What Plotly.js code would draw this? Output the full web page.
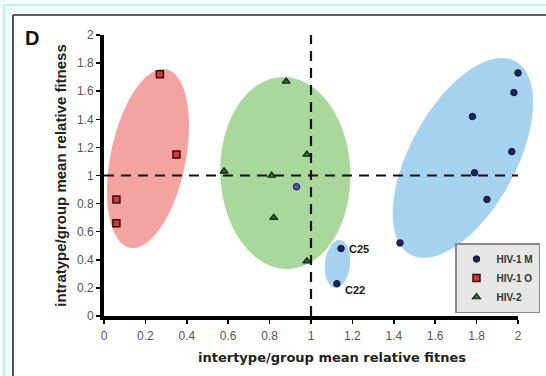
<!DOCTYPE html>
<html>
<head>
<meta charset="utf-8">
<script src="https://cdn.plot.ly/plotly-3.0.1.min.js"></script>
<style>html,body{margin:0;padding:0;background:#fff;}#chart{width:546px;height:376px;}</style>
</head>
<body>
<div id="chart"></div>
<script>
// ---- data ----
const seriesNames = ["HIV-1 M", "HIV-1 O", "HIV-2"];
const m_x = [2.00, 1.98, 1.78, 1.97, 1.79, 1.85, 1.43, 1.145, 1.125, 0.93];
const m_y = [1.73, 1.59, 1.42, 1.17, 1.02, 0.83, 0.52, 0.48, 0.23, 0.92];
const o_x = [0.27, 0.35, 0.06, 0.06];
const o_y = [1.72, 1.15, 0.83, 0.66];
const h2_x = [0.88, 0.98, 0.58, 0.81, 0.82, 0.98];
const h2_y = [1.67, 1.15, 1.03, 1.00, 0.70, 0.39];
const pointLabels = ["C25", "C22"];
const pointLabelX = [1.145, 1.125];
const pointLabelY = [0.48, 0.23];
const xTicks = [0, 0.2, 0.4, 0.6, 0.8, 1, 1.2, 1.4, 1.6, 1.8, 2];
const yTicks = [0, 0.2, 0.4, 0.6, 0.8, 1, 1.2, 1.4, 1.6, 1.8, 2];
const xTickText = ["0", "0.2", "0.4", "0.6", "0.8", "1", "1.2", "1.4", "1.6", "1.8", "2"];
const yTickText = ["0", "0.2", "0.4", "0.6", "0.8", "1", "1.2", "1.4", "1.6", "1.8", "2"];
const refX = 1, refY = 1;

// ---- geometry / styling ----
const W = 546, H = 376;
const MG = {l: 104, r: 4, t: 35, b: 60};
const AXIS_RIGHT_PX = 518;               // where x = 2 sits
const PW = W - MG.l - MG.r;
const PH = H - MG.t - MG.b;
const XDOM = [0, (AXIS_RIGHT_PX - MG.l) / PW];
const XR = [0, 2], YR = [0, 2];
const kx = (AXIS_RIGHT_PX - MG.l) / (XR[1] - XR[0]);
const ky = PH / (YR[1] - YR[0]);
const px2paperX = p => (p - MG.l) / PW;
const px2paperY = p => (H - MG.b - p) / PH;
const data2paperX = v => (v - XR[0]) * kx / PW;
const data2paperY = v => (v - YR[0]) * ky / PH;

// ellipse centred on data point (cx, cy), semi-axes in screen px, rotated phi degrees
function ellipsePath(cx, cy, a, b, phiDeg) {
  const phi = phiDeg * Math.PI / 180;
  let d = "";
  for (let i = 0; i <= 96; i++) {
    const t = 2 * Math.PI * i / 96;
    const u = a * Math.cos(t), v = b * Math.sin(t);
    const dx = u * Math.cos(phi) - v * Math.sin(phi);
    const dy = u * Math.sin(phi) + v * Math.cos(phi);
    d += (i === 0 ? "M" : "L") + data2paperX(cx + dx / kx).toFixed(5) + "," + data2paperY(cy + dy / ky).toFixed(5);
  }
  return d + "Z";
}

const ellipses = [
  {cx: 0.2126, cy: 1.121, a: 91, b: 37.5, phi: 78.5, color: "#f4a4a0"},
  {cx: 0.876, cy: 1.018, a: 96, b: 65, phi: 92, color: "#aad79b"},
  {cx: 1.734, cy: 1.125, a: 110, b: 53, phi: 61.5, color: "#a6d2f0"},
  {cx: 1.128, cy: 0.370, a: 24, b: 12.5, phi: 84, color: "#a6d2f0"}
];

const shapes = [];
function paperRect(x0, y0, x1, y1, fill) {
  shapes.push({type: "rect", xref: "paper", yref: "paper", layer: "below",
    x0: px2paperX(x0), y0: px2paperY(y0), x1: px2paperX(x1), y1: px2paperY(y1),
    fillcolor: fill, line: {width: 0}});
}
function paperLine(x0, y0, x1, y1, color, width) {
  shapes.push({type: "line", xref: "paper", yref: "paper", layer: "below",
    x0: px2paperX(x0), y0: px2paperY(y0), x1: px2paperX(x1), y1: px2paperY(y1),
    line: {color: color, width: width}});
}
// background frame (screenshot border)
paperRect(0, 0, W, H, "#f4fefe");
paperLine(4, 5, W, 5, "#b5f2f2", 2);
paperLine(4, 5, 4, H, "#b5f2f2", 2);
paperRect(13, 15, W, H, "#ffffff");
paperLine(13, 15, W, 15, "#2a2a2a", 1.6);
paperLine(13, 15, 13, H, "#2a2a2a", 1.6);

ellipses.forEach(e => shapes.push({type: "path", xref: "paper", yref: "paper", layer: "below",
  path: ellipsePath(e.cx, e.cy, e.a, e.b, e.phi), fillcolor: e.color, line: {width: 0}}));
// reference dashed lines
shapes.push({type: "line", xref: "x", yref: "y", layer: "below", x0: XR[0], x1: 2.02, y0: refY, y1: refY,
  line: {color: "#111", width: 2.2, dash: "10px,7px"}});
shapes.push({type: "line", xref: "x", yref: "y", layer: "below", x0: refX, x1: refX, y0: YR[0], y1: YR[1],
  line: {color: "#111", width: 2.2, dash: "10px,7px"}});

const mColors = m_x.map((v, i) => i === m_x.length - 1 ? "#5b4fb5" : "#1c2556");

const traces = [
  {type: "scatter", mode: "markers", name: seriesNames[0], x: m_x, y: m_y, cliponaxis: false,
   marker: {symbol: "circle", size: 6.5, color: mColors, line: {color: "#10153a", width: 1}}},
  {type: "scatter", mode: "markers", name: seriesNames[1], x: o_x, y: o_y, cliponaxis: false,
   marker: {symbol: "square", size: 7, color: "#cf3b3b", line: {color: "#3a0a0a", width: 1.5}}},
  {type: "scatter", mode: "markers", name: seriesNames[2], x: h2_x, y: h2_y, cliponaxis: false,
   marker: {symbol: "triangle-up", size: 7, color: "#2f6b2f", line: {color: "#0a2a0a", width: 1.2}}}
];

const annotations = pointLabels.map((t, i) => ({
  x: pointLabelX[i], y: pointLabelY[i], xref: "x", yref: "y", text: "<b>" + t + "</b>",
  showarrow: false, xanchor: "left", yanchor: "middle", xshift: 6, yshift: i === 1 ? -6 : 0,
  font: {family: "Liberation Sans, Arial", size: 11, color: "#1a1a1a"}
}));
annotations.push({xref: "paper", yref: "paper", x: px2paperX(23), y: px2paperY(38), xanchor: "left", yanchor: "middle",
  text: "<b>D</b>", showarrow: false, font: {family: "Liberation Sans, Arial", size: 20, color: "#111"}});
annotations.push({xref: "paper", yref: "paper", x: px2paperX(332), y: px2paperY(357), xanchor: "center", yanchor: "middle",
  text: "<b>intertype/group mean relative fitnes</b>", showarrow: false,
  font: {family: "DejaVu Sans", size: 13, color: "#222"}});

const layout = {
  width: W, height: H, margin: MG,
  paper_bgcolor: "#ffffff", plot_bgcolor: "rgba(0,0,0,0)",
  font: {family: "Liberation Sans, Arial", size: 12, color: "#555"},
  showlegend: true,
  legend: {x: px2paperX(540), xanchor: "right", y: px2paperY(243), yanchor: "top",
    bgcolor: "#e6e6e6", bordercolor: "#8a8a8a", borderwidth: 1.5,
    font: {family: "Liberation Sans, Arial", size: 10, color: "#333", weight: "bold"},
    itemwidth: 30, tracegroupgap: 0},
  xaxis: {domain: XDOM, range: XR, tickmode: "array", tickvals: xTicks, ticktext: xTickText,
    showgrid: false, zeroline: false, showline: true, linecolor: "#000", linewidth: 3.5,
    ticks: "outside", ticklen: 4, tickwidth: 1.5, tickcolor: "#000",
    tickfont: {size: 12, color: "#555"}, ticklabelstandoff: 2},
  yaxis: {range: YR, tickmode: "array", tickvals: yTicks, ticktext: yTickText,
    showgrid: false, zeroline: false, showline: true, linecolor: "#000", linewidth: 4,
    ticks: "outside", ticklen: 4, tickwidth: 1.5, tickcolor: "#000",
    tickfont: {size: 12, color: "#555"},
    title: {text: "<b>intratype/group mean relative fitness</b>", font: {size: 15, color: "#222"}, standoff: 8}},
  shapes: shapes,
  annotations: annotations
};

Plotly.newPlot("chart", traces, layout, {displayModeBar: false, staticPlot: true});
</script>
</body>
</html>
